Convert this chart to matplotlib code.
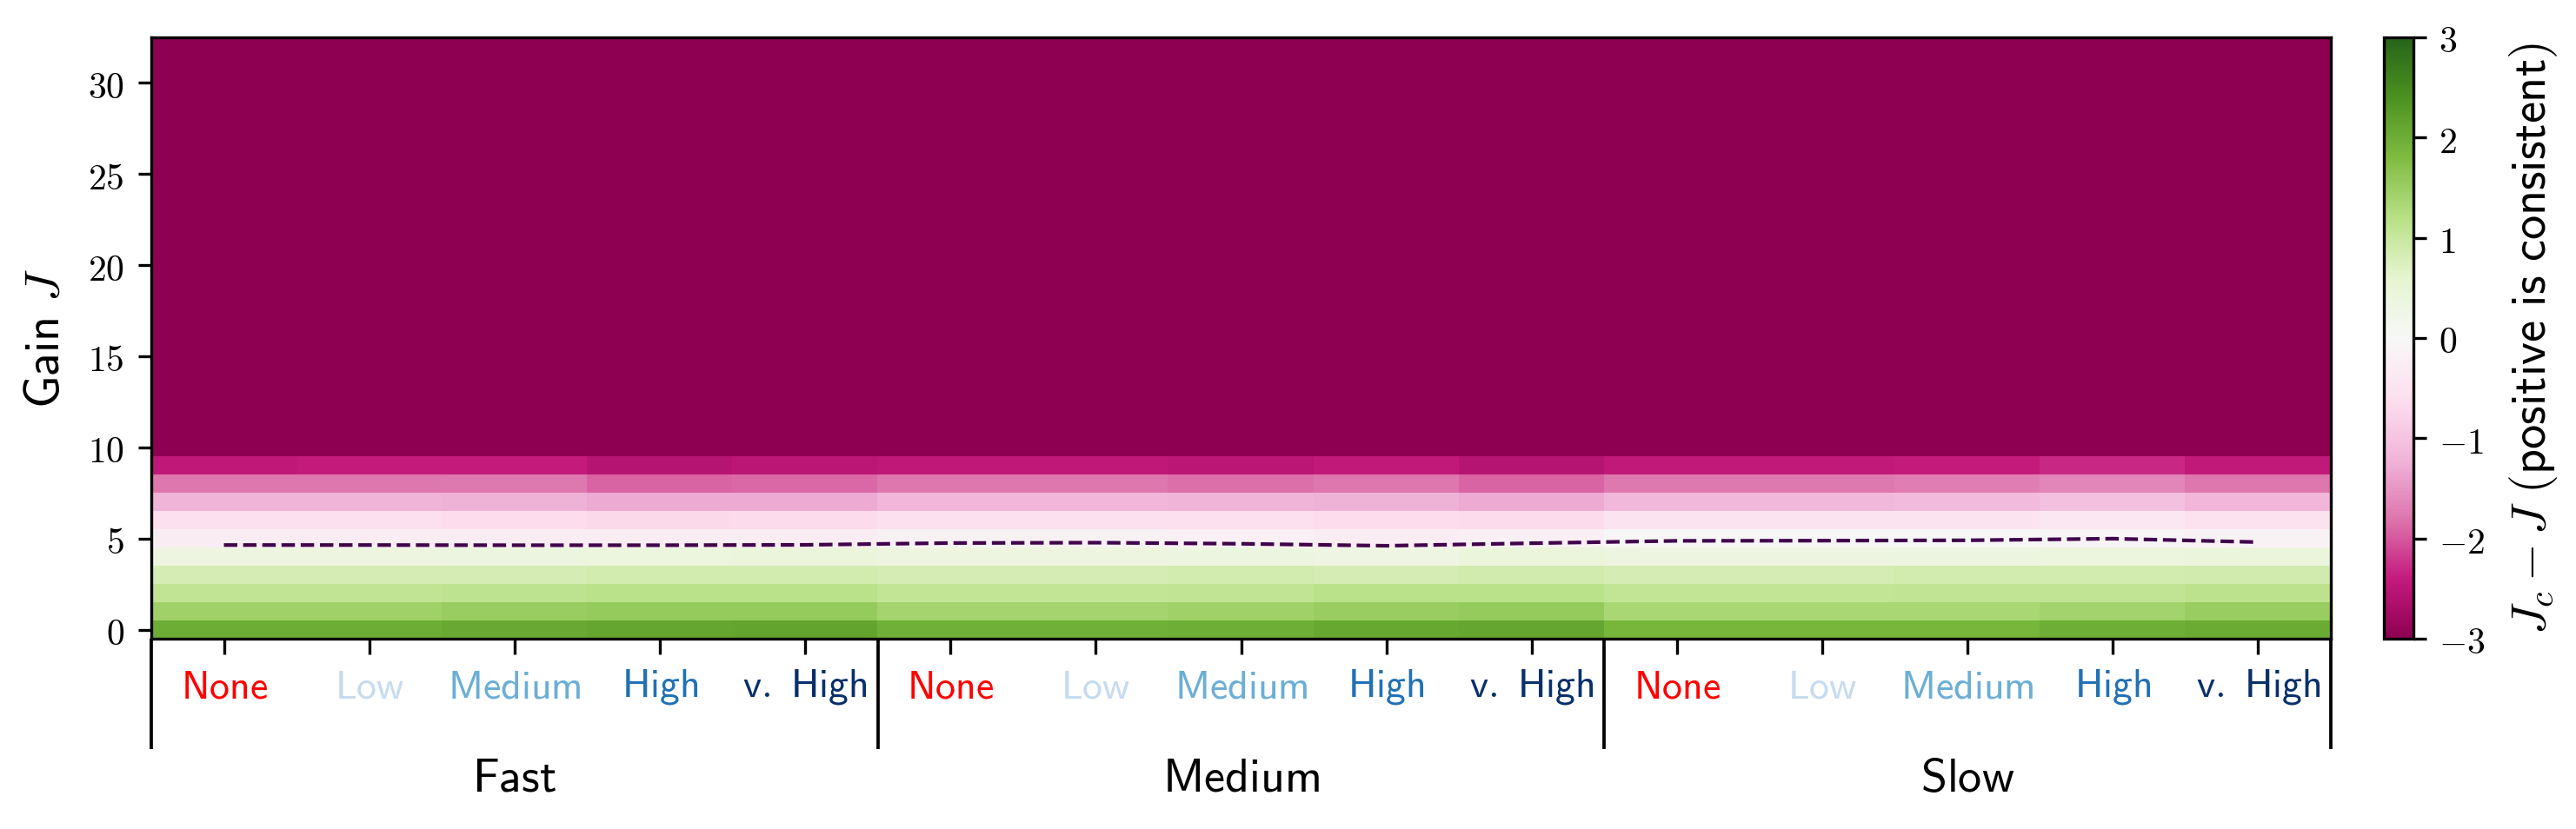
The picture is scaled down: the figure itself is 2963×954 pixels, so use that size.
import numpy as np
import matplotlib
matplotlib.use("Agg")
import matplotlib.pyplot as plt
from matplotlib.transforms import blended_transform_factory
from matplotlib.ticker import FuncFormatter

plt.rcParams["mathtext.fontset"] = "cm"

# ---------------- data ----------------
speeds = ["Fast", "Medium", "Slow"]
noise_levels = ["None", "Low", "Medium", "High", "v. High"]
noise_colors = ["#ff0000", "#c6dbef", "#6baed6", "#2171b5", "#08306b"]

n_gain_rows = 33          # gain J = 0 .. 32
vmin, vmax = -3.0, 3.0    # colour range (values beyond are saturated)

# J_c - J read per cell (15 columns: Fast x5, Medium x5, Slow x5), rows J = 0..9
row_J0 = [2.00, 2.00, 2.05, 2.10, 2.12, 1.95, 1.95, 1.97, 2.07, 2.10, 1.88, 1.88, 1.88, 1.97, 2.03]
row_J1 = [1.45, 1.45, 1.50, 1.55, 1.57, 1.40, 1.40, 1.43, 1.52, 1.55, 1.35, 1.35, 1.35, 1.42, 1.50]
row_J2 = [1.10, 1.10, 1.12, 1.15, 1.17, 1.07, 1.07, 1.10, 1.15, 1.17, 1.07, 1.07, 1.08, 1.10, 1.13]
row_J3 = [0.80, 0.80, 0.82, 0.85, 0.85, 0.80, 0.80, 0.85, 0.82, 0.88, 0.80, 0.80, 0.85, 0.85, 0.87]
row_J4 = [0.35, 0.35, 0.36, 0.38, 0.40, 0.33, 0.33, 0.36, 0.32, 0.40, 0.35, 0.35, 0.36, 0.38, 0.40]
row_J5 = [-0.25, -0.25, -0.25, -0.27, -0.27, -0.15, -0.15, -0.20, -0.25, -0.20, -0.02, -0.02, -0.02, -0.05, -0.12]
row_J6 = [-0.60, -0.60, -0.65, -0.68, -0.67, -0.58, -0.58, -0.60, -0.65, -0.67, -0.50, -0.50, -0.50, -0.40, -0.55]
row_J7 = [-1.20, -1.20, -1.22, -1.30, -1.30, -1.18, -1.18, -1.20, -1.24, -1.30, -1.15, -1.15, -1.13, -1.05, -1.18]
row_J8 = [-1.80, -1.80, -1.78, -1.90, -1.88, -1.80, -1.80, -1.85, -1.80, -1.92, -1.78, -1.78, -1.72, -1.65, -1.80]
row_J9 = [-2.46, -2.40, -2.40, -2.55, -2.50, -2.45, -2.45, -2.50, -2.42, -2.55, -2.42, -2.42, -2.41, -2.30, -2.42]
# rows J >= 10 are saturated at the bottom of the colour scale
saturated_value = -3.0

# critical gain J_c (dashed line) per column
jc_values = [4.64, 4.64, 4.63, 4.63, 4.65,
             4.75, 4.77, 4.71, 4.60, 4.74,
             4.87, 4.88, 4.90, 4.99, 4.80]

# ---------------- build grid ----------------
measured = np.array([row_J0, row_J1, row_J2, row_J3, row_J4,
                     row_J5, row_J6, row_J7, row_J8, row_J9])
n_cols = measured.shape[1]
grid = np.full((n_gain_rows, n_cols), saturated_value)
grid[:measured.shape[0], :] = measured

# ---------------- figure ----------------
W, H = 2963, 955
fig = plt.figure(figsize=(W / 300, H / 300), dpi=300)
ax = fig.add_axes([174 / W, 1 - 736 / H, (2681 - 174) / W, (736 - 44) / H])
cax = fig.add_axes([2742 / W, 1 - 736 / H, 34 / W, (736 - 44) / H])

im = ax.imshow(grid, origin="lower", aspect="auto", cmap="PiYG",
               vmin=vmin, vmax=vmax, interpolation="nearest")
ax.plot(np.arange(n_cols), jc_values, ls="--", color="#40004b", lw=1.0)

ax.set_xlim(-0.5, n_cols - 0.5)
ax.set_ylim(-0.5, n_gain_rows - 0.5)

# y axis
ax.set_yticks([0, 5, 10, 15, 20, 25, 30])
ax.yaxis.set_major_formatter(FuncFormatter(lambda v, p: f"${v:g}$"))
ax.tick_params(axis="y", labelsize=10, pad=4)
ax.set_ylabel(r"$\mathsf{Gain}\ J$", fontsize=13.5, labelpad=5)

# x axis: noise levels repeated for each speed
labels = []
colors = []
for s in speeds:
    for lvl, c in zip(noise_levels, noise_colors):
        labels.append(r"$\mathsf{" + lvl.replace(" ", r"\ ") + "}$")
        colors.append(c)
ax.set_xticks(np.arange(n_cols))
ax.set_xticklabels(labels, fontsize=11)
for t, c in zip(ax.get_xticklabels(), colors):
    t.set_color(c)
ax.tick_params(axis="x", length=4.2, pad=3.5)

# group separators and group labels
trans = blended_transform_factory(ax.transData, ax.transAxes)
n_lvl = len(noise_levels)
for g in range(len(speeds) + 1):
    b = g * n_lvl - 0.5
    ax.plot([b, b], [0, -0.183], transform=trans, color="black", lw=0.9,
            clip_on=False, solid_capstyle="butt")
for g, s in enumerate(speeds):
    ax.text(g * n_lvl + (n_lvl - 1) / 2, -0.231, r"$\mathsf{" + s + "}$",
            transform=trans, ha="center", va="center", fontsize=13)

# colorbar
cb = fig.colorbar(im, cax=cax, ticks=[-3, -2, -1, 0, 1, 2, 3])
cb.ax.yaxis.set_major_formatter(FuncFormatter(lambda v, p: f"${v:g}$"))
cb.ax.tick_params(labelsize=10)
cb.set_label(r"$J_c - J\ \mathsf{(positive\ is\ consistent)}$", fontsize=13.5, labelpad=6)

fig.savefig("out.png", dpi=300)
